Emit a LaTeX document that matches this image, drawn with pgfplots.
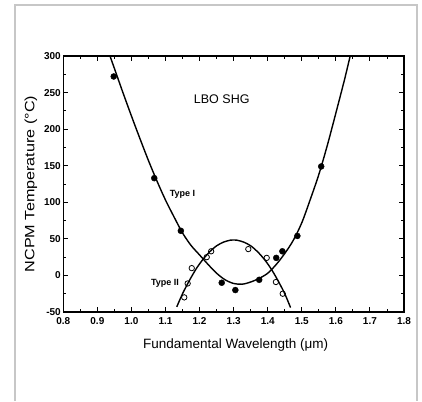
\documentclass[border=0pt]{standalone}
\usepackage{fontspec}
\setmainfont{Liberation Sans}
\usepackage{graphicx}
\usepackage{pgfplots}
\pgfplotsset{compat=1.18}
\begin{document}
\begin{tikzpicture}
\useasboundingbox (-63.3pt,-89pt) rectangle (358.7pt,312pt);
\draw[line width=1.5pt, black!22] (-48.3pt,-89pt) -- (-48.3pt,307pt) -- (353.7pt,307pt) -- (353.7pt,-89pt);
\begin{axis}[at={(0pt,0pt)}, anchor=south west, scale only axis,
  width=340.7pt, height=256pt,
  xmin=0.8, xmax=1.8, ymin=-50, ymax=300,
  xtick={0.8,0.9,1.0,1.1,1.2,1.3,1.4,1.5,1.6,1.7,1.8},
  xticklabels={0.8,0.9,1.0,1.1,1.2,1.3,1.4,1.5,1.6,1.7,1.8},
  ytick={-50,0,50,100,150,200,250,300},
  minor x tick num=1, minor y tick num=1,
  tick align=inside, major tick length=5pt, minor tick length=3pt,
  axis line style={line width=1.3pt},
  every tick/.style={black, line width=0.9pt},
  ticklabel style={font=\fontsize{10}{12}\selectfont\bfseries},
  xticklabel style={yshift=-2pt},
  yticklabel style={xshift=1pt},
  /pgf/number format/assume math mode=true,
  xlabel={Fundamental Wavelength (μm)},
  ylabel={\scalebox{1.2}[1]{NCPM Temperature (°C)}},
  every axis x label/.style={at={(axis description cs:0.506,-0.129)}, anchor=center, font=\fontsize{13.5}{16}\selectfont},
  every axis y label/.style={at={(axis description cs:-0.095,0.5)}, rotate=90, anchor=center, font=\fontsize{13.5}{16}\selectfont},
]
% Type I fit curve
\addplot[black, line width=1.4pt, smooth, no marks] coordinates {
(0.937,300) (0.95,283) (0.975,250) (1.00,218) (1.025,187) (1.05,157) (1.075,129)
(1.10,103) (1.125,80) (1.15,58) (1.175,41) (1.20,28) (1.225,15) (1.25,3)
(1.275,-6) (1.30,-11) (1.325,-12) (1.35,-9) (1.375,-4) (1.40,3) (1.425,15)
(1.45,30) (1.475,48) (1.50,72) (1.525,104) (1.55,138) (1.575,178) (1.60,222)
(1.625,267) (1.642,300)};
% Type II fit curve
\addplot[black, line width=1.4pt, smooth, no marks] coordinates {
(1.133,-43) (1.15,-25) (1.17,-7) (1.19,9) (1.21,22) (1.23,32.5) (1.25,40.5)
(1.27,45.5) (1.29,48.2) (1.30,48.5) (1.31,48.2) (1.33,45.5) (1.35,40.5)
(1.37,32.5) (1.39,22) (1.41,9) (1.43,-7) (1.45,-25) (1.467,-44)};
% Type I data (filled)
\addplot[only marks, mark=*, mark size=3pt, black] coordinates {
(0.948,272) (1.067,133) (1.145,61) (1.265,-10) (1.305,-20) (1.375,-6)
(1.425,24) (1.443,33) (1.487,54) (1.557,149)};
% Type II data (open)
\addplot[only marks, mark=o, mark size=2.7pt, black, line width=0.8pt, fill=white] coordinates {
(1.155,-30) (1.165,-11) (1.177,10) (1.221,25) (1.234,33) (1.343,36)
(1.397,24) (1.424,-9) (1.444,-25)};
\node[font=\fontsize{12.5}{14}\selectfont] at (axis cs:1.265,241) {LBO SHG};
\node[font=\fontsize{9}{11}\selectfont\bfseries] at (axis cs:1.150,111) {Type I};
\node[font=\fontsize{9}{11}\selectfont\bfseries] at (axis cs:1.0985,-11) {Type II};
\end{axis}
\end{tikzpicture}
\end{document}
